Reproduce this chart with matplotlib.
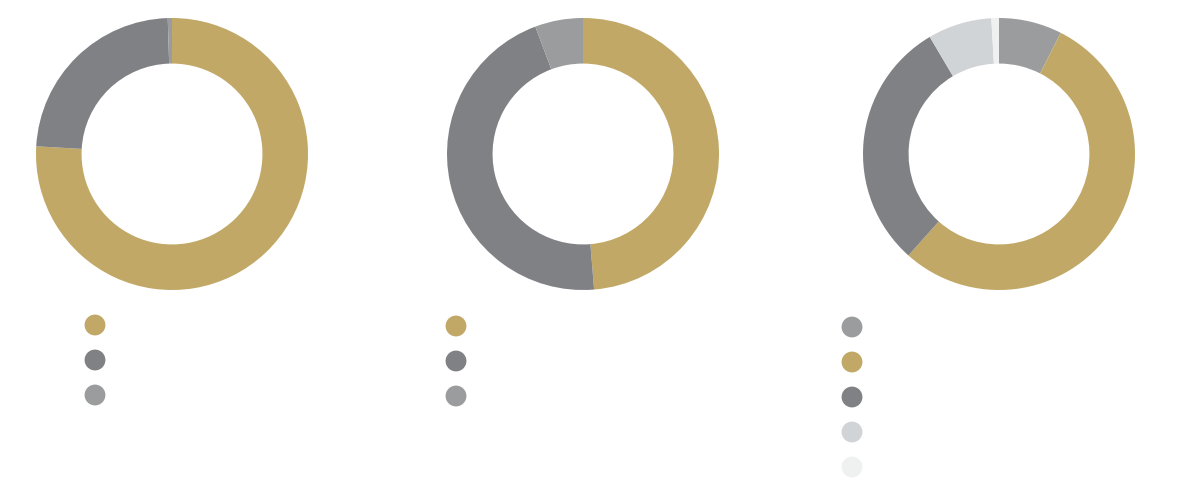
import matplotlib
matplotlib.use('Agg')
from matplotlib import pyplot as plt

GOLD = '#c1a866'
DARK = '#808184'
MID = '#9a9c9e'
LIGHT = '#d1d4d7'
PALE = '#eff0f0'

# donut 1
values_1 = [75.9, 23.6, 0.5]
colors_1 = [GOLD, DARK, MID]
# donut 2
values_2 = [48.7, 45.6, 5.7]
colors_2 = [GOLD, DARK, MID]
# donut 3
values_3 = [7.5, 54.1, 29.9, 7.6, 0.9]
colors_3 = [MID, GOLD, DARK, LIGHT, PALE]

W, H = 1200, 500
fig = plt.figure(figsize=(12, 5), dpi=100)

# overlay in pixel coordinates for the legend dots
over = fig.add_axes([0, 0, 1, 1])
over.set_xlim(0, W)
over.set_ylim(H, 0)
over.axis('off')


def donut(cx, cy, values, colors, r=136, legend_x=None, legend_y=None):
    ax = fig.add_axes([(cx - r) / W, (H - cy - r) / H, 2 * r / W, 2 * r / H])
    ax.pie(values, colors=colors, startangle=90, counterclock=False,
           radius=1, wedgeprops=dict(width=0.335, edgecolor='none'))
    ax.set_xlim(-1, 1)
    ax.set_ylim(-1, 1)
    ax.set_aspect('equal')
    ax.axis('off')
    ys = [legend_y + 35 * i for i in range(len(colors))]
    over.scatter([legend_x] * len(colors), ys, s=225, c=colors, linewidths=0)


donut(172, 154, values_1, colors_1, legend_x=95, legend_y=325)
donut(583, 154, values_2, colors_2, legend_x=456, legend_y=326)
donut(999, 154, values_3, colors_3, legend_x=852, legend_y=327)

fig.savefig('out.png', dpi=100, facecolor='white')
